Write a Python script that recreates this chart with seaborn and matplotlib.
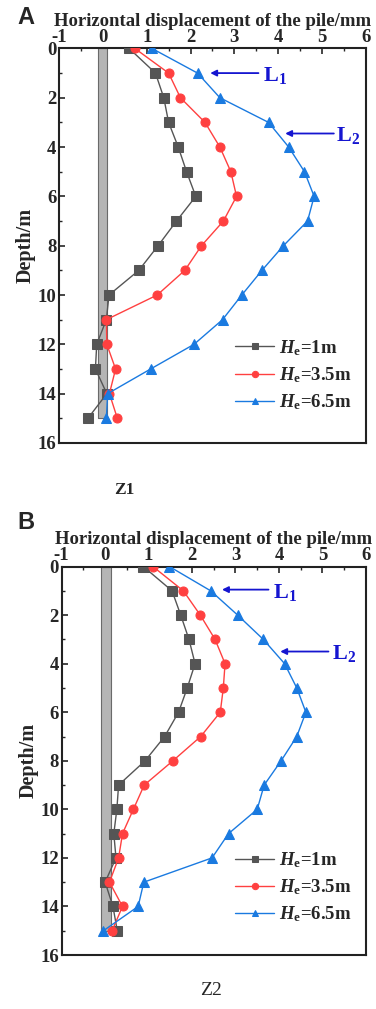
import numpy as np
import pandas as pd
import matplotlib
matplotlib.use("Agg")
import matplotlib.pyplot as plt
from matplotlib.ticker import MultipleLocator
import seaborn as sns

# Depth along the pile (m)
depth = [0, 1, 2, 3, 4, 5, 6, 7, 8, 9, 10, 11, 12, 13, 14, 15]

# Z1 horizontal displacement (mm)
z1_he1 = [0.60, 1.20, 1.39, 1.50, 1.72, 1.91, 2.12, 1.68, 1.26, 0.82, 0.14, 0.08, -0.14, -0.17, 0.09, -0.34]
z1_he35 = [0.73, 1.50, 1.77, 2.33, 2.67, 2.92, 3.05, 2.75, 2.25, 1.87, 1.24, 0.08, 0.09, 0.29, 0.15, 0.33]
z1_he65 = [1.12, 2.16, 2.67, 3.78, 4.24, 4.60, 4.82, 4.67, 4.12, 3.63, 3.17, 2.73, 2.08, 1.09, 0.11, 0.08]

# Z2 horizontal displacement (mm)
z2_he1 = [0.88, 1.54, 1.74, 1.93, 2.07, 1.89, 1.69, 1.37, 0.92, 0.31, 0.27, 0.20, 0.25, 0.00, 0.18, 0.28]
z2_he35 = [1.10, 1.80, 2.19, 2.53, 2.76, 2.72, 2.65, 2.20, 1.56, 0.90, 0.65, 0.40, 0.31, 0.10, 0.40, 0.16]
z2_he65 = [1.48, 2.43, 3.05, 3.64, 4.13, 4.41, 4.62, 4.41, 4.05, 3.66, 3.50, 2.84, 2.46, 0.89, 0.76, -0.04]

series_labels = [r"$\mathit{H}_\mathregular{e}$=1m",
                 r"$\mathit{H}_\mathregular{e}$=3.5m",
                 r"$\mathit{H}_\mathregular{e}$=6.5m"]
x_ticks = [-1, 0, 1, 2, 3, 4, 5, 6]
y_ticks = [0, 2, 4, 6, 8, 10, 12, 14, 16]

sns.set_theme(style="ticks")
plt.rcParams["font.family"] = ["Liberation Serif", "DejaVu Serif"]
plt.rcParams["axes.unicode_minus"] = False
plt.rcParams["mathtext.fontset"] = "custom"
plt.rcParams["mathtext.it"] = "Liberation Serif:italic:bold"
plt.rcParams["mathtext.rm"] = "Liberation Serif:bold"
plt.rcParams["mathtext.bf"] = "Liberation Serif:bold"

colors = ["#555555", "#ff4040", "#1a7ae0"]
markers = ["s", "o", "^"]
arrow_col = "#1515d0"

fig = plt.figure(figsize=(3.76, 10.09), dpi=100)
ax1 = fig.add_axes([0.157, 0.561, 0.816, 0.391])
ax2 = fig.add_axes([0.164, 0.0535, 0.809, 0.385])


def draw_panel(ax, series, pile, arrows):
    # pile outline as a grey strip
    ax.fill_betweenx([0, 15], pile[0], pile[1], color="#b5b5b5",
                     edgecolor="#6a6a6a", linewidth=0.8, zorder=1)
    for vals, c, m, lab in zip(series, colors, markers, series_labels):
        df = pd.DataFrame({"disp": vals, "depth": depth})
        sns.lineplot(data=df, x="disp", y="depth", orient="y", sort=False,
                     ax=ax, color=c, marker=m, markersize=6.5, linewidth=1.0,
                     markeredgecolor=c, label=lab, zorder=3)
    ax.set_xlim(-1, 6)
    ax.set_ylim(16, 0)
    ax.set_xticks(x_ticks)
    ax.set_yticks(y_ticks)
    ax.xaxis.set_minor_locator(MultipleLocator(0.5))
    ax.yaxis.set_minor_locator(MultipleLocator(1))
    ax.xaxis.tick_top()
    ax.xaxis.set_label_position("top")
    ax.tick_params(axis="both", which="major", direction="in", length=4,
                   width=1.2, labelsize=13.5, pad=2, top=True, bottom=False,
                   left=True, right=False)
    ax.tick_params(axis="both", which="minor", direction="in", length=2.5,
                   width=1.0, top=True, bottom=False, left=True, right=False)
    for lbl in ax.get_xticklabels() + ax.get_yticklabels():
        lbl.set_fontweight("bold")
    for sp in ax.spines.values():
        sp.set_linewidth(1.5)
        sp.set_color("#222222")
    ax.set_xlabel("Horizontal displacement of the pile/mm", fontsize=13.5,
                  fontweight="bold", labelpad=2)
    ax.set_ylabel("Depth/m", fontsize=14.5, fontweight="bold", labelpad=1)
    ax.legend(loc="lower right", frameon=False,
              prop={"weight": "bold", "size": 13.5},
              handlelength=2.1, handletextpad=0.25, labelspacing=0.4,
              markerscale=0.7, bbox_to_anchor=(0.99, 0.05),
              borderaxespad=0.2)
    for name, (x0, x1, yy, tx) in arrows.items():
        ax.annotate("", xy=(x1, yy), xytext=(x0, yy),
                    arrowprops=dict(arrowstyle="-|>", color=arrow_col, lw=1.3,
                                    mutation_scale=9, shrinkA=0, shrinkB=0))
        ax.text(tx, yy + 0.1, r"$\mathregular{L}_\mathregular{%s}$" % name[1],
                color=arrow_col, fontsize=16, va="center", ha="left",
                fontweight="bold")


draw_panel(ax1, [z1_he1, z1_he35, z1_he65], (-0.12, 0.10),
           {"L1": (3.55, 2.45, 1.0, 3.66), "L2": (5.27, 4.16, 3.45, 5.33)})
draw_panel(ax2, [z2_he1, z2_he35, z2_he65], (-0.10, 0.14),
           {"L1": (3.76, 2.69, 0.95, 3.86), "L2": (5.14, 4.03, 3.5, 5.23)})

fig.text(0.068, 0.983, "A", fontsize=17, fontweight="bold",
         family="Liberation Sans", ha="center", va="center")
fig.text(0.068, 0.482, "B", fontsize=17, fontweight="bold",
         family="Liberation Sans", ha="center", va="center")
fig.text(0.33, 0.514, "Z1", fontsize=12.5, fontweight="bold",
         ha="center", va="center")
fig.text(0.56, 0.018, "Z2", fontsize=14, ha="center", va="center")

fig.savefig("out.png", dpi=100)
